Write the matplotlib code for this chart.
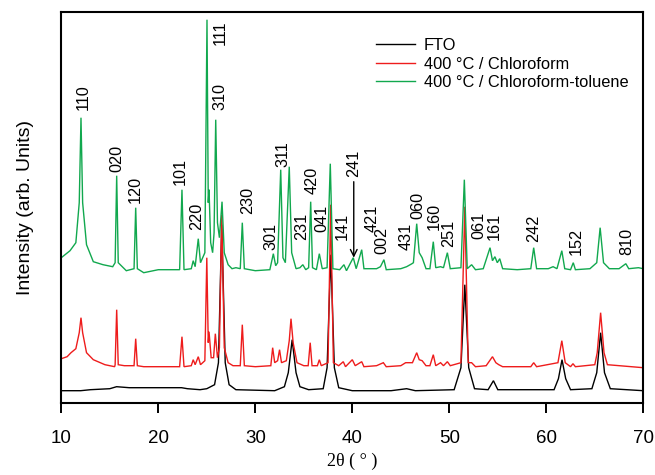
import matplotlib
matplotlib.use("Agg")
import matplotlib.pyplot as plt
from matplotlib.lines import Line2D

# ---------------- data (2theta in degrees, intensity in arb. units) ----------------
fto_x = [10.0, 12.0, 13.0, 15.0, 15.7, 17.0, 20.0, 22.4, 23.0, 24.3, 25.0, 25.8, 26.2, 26.54, 26.9, 27.3,
         28.0, 32.0, 33.0, 33.4, 33.8, 34.2, 34.6, 35.5, 37.0, 37.4, 37.78, 38.15, 38.6, 40.0, 44.0, 45.6,
         46.5, 50.5, 51.2, 51.6, 52.0, 52.6, 54.0, 54.55, 55.0, 60.8, 61.25, 61.62, 62.0, 62.5, 64.7, 65.2,
         65.6, 66.0, 66.6, 70.0]
fto_y = [12, 12, 13, 14, 16, 15, 15, 15, 14, 13, 14, 18, 40, 178, 40, 18,
         13, 12, 16, 30, 63, 30, 16, 13, 14, 35, 148, 35, 15, 12, 12, 14,
         12, 13, 35, 118, 35, 14, 13, 22, 13, 13, 24, 43, 24, 13, 14, 30,
         70, 30, 14, 12]

chl_x = [10.0, 10.6, 11.0, 11.5, 11.85, 12.03, 12.2, 12.6, 13.3, 14.5, 15.5, 15.55, 15.71, 15.87, 16.5,
         17.5, 17.67, 17.84, 18.5, 22.2, 22.44, 22.65, 23.4, 23.6, 23.8, 24.12, 24.35, 24.8, 25.0, 25.15,
         25.23, 25.45, 25.7, 25.88, 26.1, 26.3, 26.54, 26.8, 27.2, 27.7, 28.45, 28.66, 28.87, 30.0, 31.6,
         31.79, 32.0, 32.3, 32.5, 32.7, 33.2, 33.5, 33.68, 33.9, 34.3, 35.0, 35.45, 35.66, 35.85, 36.4,
         36.6, 36.8, 37.5, 37.77, 38.05, 38.6, 39.07, 39.3, 40.0, 40.3, 40.97, 41.2, 42.5, 43.2, 43.5,
         45.0, 45.5, 46.2, 46.64, 46.9, 47.2, 47.6, 48.0, 48.35, 48.6, 49.1, 49.4, 49.8, 50.1, 51.2,
         51.6, 51.95, 52.3, 52.7, 53.8, 54.45, 54.8, 55.1, 55.5, 58.4, 58.7, 59.0, 61.2, 61.6, 61.95,
         62.5, 62.75, 63.0, 65.0, 65.25, 65.6, 65.95, 66.3, 70.0]
chl_y = [44, 46, 50, 54, 70, 85, 70, 50, 43, 38, 36, 38, 93, 38, 37,
         37, 64, 37, 36, 36, 66, 36, 37, 43, 38, 46, 38, 42, 145, 60,
         71, 45, 45, 69, 45, 55, 188, 55, 40, 37, 37, 78, 37, 36, 37,
         55, 40, 42, 53, 40, 42, 62, 84, 60, 40, 37, 37, 60, 37, 37,
         43, 37, 40, 198, 40, 37, 41, 36, 43, 37, 41, 36, 37, 40, 36,
         37, 40, 40, 50, 43, 42, 37, 37, 48, 37, 40, 37, 41, 37, 40,
         196, 40, 40, 36, 37, 46, 40, 38, 36, 36, 40, 36, 40, 62, 40,
         36, 39, 36, 38, 50, 90, 50, 38, 35]

tol_x = [10.0, 10.9, 11.5, 11.85, 12.03, 12.2, 12.6, 13.3, 14.3, 15.3, 15.55, 15.71, 15.87, 16.7, 17.5,
         17.67, 17.84, 18.5, 20.0, 22.2, 22.44, 22.65, 23.4, 23.6, 23.8, 24.12, 24.35, 24.8, 25.02, 25.15,
         25.23, 25.4, 25.6, 25.75, 25.92, 26.1, 26.3, 26.57, 26.8, 27.2, 27.6, 28.0, 28.45, 28.66, 28.87,
         30.0, 31.5, 31.86, 32.1, 32.3, 32.62, 32.85, 33.1, 33.5, 33.75, 34.2, 34.6, 34.9, 35.2, 35.5,
         35.71, 35.9, 36.3, 36.6, 36.9, 37.4, 37.73, 38.0, 38.7, 39.14, 39.4, 40.1, 40.4, 40.97, 41.2,
         42.5, 42.9, 43.26, 43.5, 45.0, 45.6, 46.15, 46.3, 46.64, 46.9, 47.2, 47.6, 48.0, 48.35, 48.6,
         49.1, 49.4, 49.8, 50.1, 51.2, 51.55, 51.85, 52.3, 52.7, 53.5, 54.2, 54.45, 54.7, 54.95, 55.2,
         55.5, 57.0, 58.4, 58.7, 59.0, 60.2, 60.7, 61.1, 61.6, 61.9, 62.5, 62.78, 63.0, 64.5, 65.2,
         65.55, 65.9, 66.5, 67.5, 68.2, 68.5, 69.5, 70.0]
tol_y = [145, 152, 160, 200, 285, 200, 158, 141, 138, 136, 140, 227, 140, 132, 134,
         195, 134, 130, 133, 133, 213, 133, 134, 142, 136, 164, 140, 150, 383, 200,
         213, 160, 150, 170, 283, 180, 165, 201, 150, 138, 134, 135, 134, 180, 134,
         132, 133, 149, 137, 140, 233, 145, 140, 236, 150, 134, 135, 138, 133, 135,
         201, 135, 133, 149, 134, 135, 239, 134, 133, 138, 132, 145, 134, 153, 134,
         134, 136, 143, 133, 134, 136, 139, 140, 179, 150, 145, 134, 134, 161, 135,
         136, 135, 150, 134, 135, 223, 134, 138, 133, 134, 155, 142, 146, 140, 144,
         134, 133, 134, 155, 134, 134, 136, 134, 152, 134, 133, 140, 133, 134, 140,
         175, 140, 134, 134, 139, 134, 135, 134]

series_names = ["FTO", "400 \u00b0C / Chloroform", "400 \u00b0C / Chloroform-toluene"]
series_colors = ["#000000", "#ee1c1c", "#11a84e"]

hkl_labels = ["110", "020", "120", "101", "220", "111", "310", "230", "301", "311", "231", "420",
              "041", "141", "241", "421", "002", "431", "060", "160", "251", "061", "161", "242",
              "152", "810"]
hkl_x = [12.3, 15.7, 17.6, 22.3, 24.0, 26.4, 26.4, 29.2, 31.6, 32.8, 34.8, 35.9,
         36.9, 39.0, 40.15, 42.0, 43.1, 45.6, 46.8, 48.5, 49.9, 53.05, 54.6, 58.7,
         63.1, 68.3]
hkl_y = [293, 231, 200, 218, 173, 358, 293, 189, 153, 236, 163, 209,
         171, 163, 226, 171, 149, 153, 184, 173, 156, 164, 163, 161,
         148, 148]

arrow_x = 40.15
arrow_from = 221
arrow_to = 145

xticks = [10, 20, 30, 40, 50, 60, 70]

# ---------------- figure ----------------
fig = plt.figure(figsize=(6.55, 4.75), dpi=100)
ax = fig.add_axes([61.3 / 655, 1 - 402.7 / 475, (643.3 - 61.3) / 655, (402.7 - 12.3) / 475])

for xs, ys, c in zip([fto_x, chl_x, tol_x], [fto_y, chl_y, tol_y], series_colors):
    ax.plot(xs, ys, color=c, lw=1.0, solid_joinstyle="miter")

ax.set_xlim(10, 70)
ax.set_ylim(0, 390.4)
ax.set_xticks(xticks)
ax.set_xticklabels([str(t) for t in xticks], fontsize=13.5, family="Liberation Sans")
ax.set_yticks([])
ax.tick_params(axis="x", direction="out", length=7, width=1.4, pad=13)
for s in ax.spines.values():
    s.set_linewidth(1.5)

ax.set_xlabel("2\u03b8 ( \u00b0 )", family="Liberation Serif", fontsize=13, labelpad=4)
ax.set_ylabel("Intensity (arb. Units)", family="Liberation Sans", fontsize=14, labelpad=20)

for lab, x, y in zip(hkl_labels, hkl_x, hkl_y):
    ax.text(x, y, lab, rotation=90, ha="center", va="bottom", fontsize=11.7,
            family="Liberation Sans")

ax.annotate("", xy=(arrow_x, arrow_to), xytext=(arrow_x, arrow_from),
            arrowprops=dict(arrowstyle="->", color="black", lw=1.0, shrinkA=0, shrinkB=0,
                            mutation_scale=12))

handles = [Line2D([0], [0], color=c, lw=1.0) for c in series_colors]
leg = ax.legend(handles, series_names, loc="upper left",
                bbox_to_anchor=(376 / 655, 1 - 38 / 475), bbox_transform=fig.transFigure,
                frameon=False, borderpad=0, borderaxespad=0, handlelength=2.4,
                handletextpad=0.5, labelspacing=0.22,
                prop={"family": "Liberation Sans", "size": 11.8})

fig.savefig("out.png", dpi=100)
